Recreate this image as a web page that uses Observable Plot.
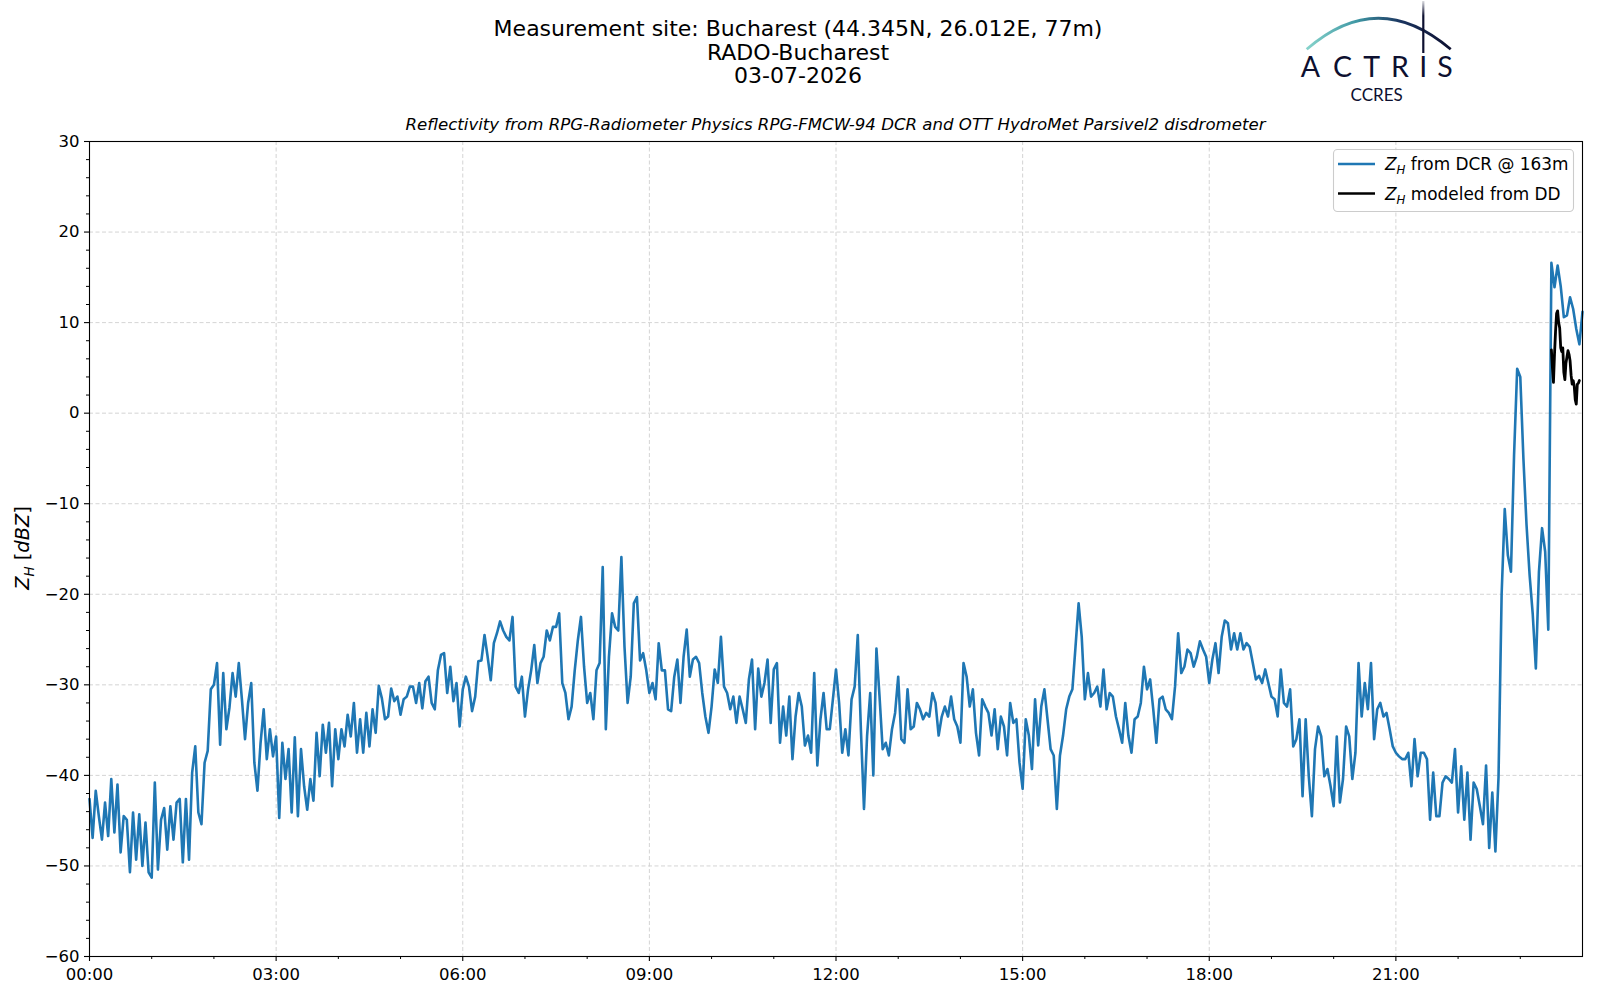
<!DOCTYPE html>
<html>
<head>
<meta charset="utf-8">
<script src="https://cdn.jsdelivr.net/npm/d3@7"></script>
<script src="https://cdn.jsdelivr.net/npm/@observablehq/plot@0.6"></script>
<style>
  body { margin: 0; background: #fff; font-family: "DejaVu Sans", sans-serif; }
  #fig { position: relative; width: 1600px; height: 1000px; overflow: hidden; }
  .title { position: absolute; left: 0; top: 17px; width: 1596px; text-align: center;
           font-size: 22px; line-height: 23.5px; color: #000; }
  .subtitle { position: absolute; left: 89px; top: 115px; width: 1493px; text-align: center;
              font-size: 16.6px; line-height: 20px; font-style: italic; color: #000; }
  #chart { position: absolute; left: 0; top: 100px; }
  .overlay { position: absolute; overflow: visible; }
</style>
</head>
<body>
<div id="fig">
  <div class="title">Measurement site: Bucharest (44.345N, 26.012E, 77m)<br>RADO-Bucharest<br>03-07-2026</div>

  <svg class="overlay" style="left:1285px;top:0" width="190" height="105">
    <defs>
      <linearGradient id="arcGrad" x1="0" x2="1" y1="0" y2="0">
        <stop offset="0" stop-color="#86d3cb"/>
        <stop offset="0.35" stop-color="#3f97a4"/>
        <stop offset="0.65" stop-color="#1b3560"/>
        <stop offset="1" stop-color="#0d1030"/>
      </linearGradient>
      <linearGradient id="barGrad" gradientUnits="userSpaceOnUse" x1="0" x2="0" y1="0" y2="53">
        <stop offset="0" stop-color="#0d1030" stop-opacity="0.1"/>
        <stop offset="0.3" stop-color="#0d1030" stop-opacity="1"/>
        <stop offset="1" stop-color="#0d1030"/>
      </linearGradient>
    </defs>
    <path d="M21.7,49.3 Q93,-12.9 165.7,49.3" fill="none" stroke="url(#arcGrad)" stroke-width="2.8"/>
    <line x1="138.3" x2="138.3" y1="1" y2="53" stroke="url(#barGrad)" stroke-width="2.2"/>
    <text y="76.5" font-family="Lato" font-size="28.5px" fill="#0d1030" text-anchor="middle"><tspan x="25.5">A</tspan><tspan x="57.5">C</tspan><tspan x="86.7">T</tspan><tspan x="115">R</tspan><tspan x="138.3">I</tspan><tspan x="160">S</tspan></text>
    <text x="91.7" y="100.5" font-family="Lato" font-size="17px" fill="#0d1030" text-anchor="middle">CCRES</text>
  </svg>

  <div class="subtitle">Reflectivity from RPG-Radiometer Physics RPG-FMCW-94 DCR and OTT HydroMet Parsivel2 disdrometer</div>

  <div id="chart"></div>

  <svg class="overlay" style="left:0;top:400px" width="46" height="300">
    <text transform="translate(29,148) rotate(-90)" text-anchor="middle" font-family="DejaVu Sans" font-size="19.4px" fill="#000"><tspan font-style="italic">Z</tspan><tspan font-style="italic" font-size="13.5px" dy="4.5">H</tspan><tspan dy="-4.5"> [</tspan><tspan font-style="italic">dBZ</tspan><tspan>]</tspan></text>
  </svg>

  <svg class="overlay" style="left:1333px;top:149px" width="244" height="66">
    <rect x="0.5" y="0.5" width="240" height="62" rx="4" fill="#fff" fill-opacity="0.8" stroke="#cccccc" stroke-width="1.1"/>
    <line x1="5" x2="42" y1="15" y2="15" stroke="#1f77b4" stroke-width="2.6"/>
    <line x1="5" x2="42" y1="44.5" y2="44.5" stroke="#000" stroke-width="2.6"/>
    <text x="52" y="21" font-family="DejaVu Sans" font-size="16.9px" fill="#000"><tspan font-style="italic">Z</tspan><tspan font-style="italic" font-size="11.8px" dy="4">H</tspan><tspan dy="-4"> from DCR @ 163m</tspan></text>
    <text x="52" y="50.5" font-family="DejaVu Sans" font-size="16.9px" fill="#000"><tspan font-style="italic">Z</tspan><tspan font-style="italic" font-size="11.8px" dy="4">H</tspan><tspan dy="-4"> modeled from DD</tspan></text>
  </svg>
</div>

<script>
// day of the measurement (03-07-2026), values every 3 minutes from 00:00 to 24:00
const dayStart = Date.UTC(2026, 6, 3);
const dcrStepMin = 3;
const zhDcr = [
  -42.6, -46.9, -41.7, -44.5, -47.1, -43.0, -46.7, -40.4, -46.3, -41.0,
  -48.5, -44.5, -44.9, -50.7, -44.1, -49.3, -44.3, -50.0, -45.2, -50.7,
  -51.3, -40.8, -50.4, -44.9, -43.6, -48.2, -43.4, -47.1, -43.0, -42.6,
  -49.6, -42.6, -49.3, -39.7, -36.8, -44.1, -45.4, -38.6, -37.3, -30.5,
  -30.0, -27.6, -36.6, -28.7, -34.9, -32.5, -28.7, -31.3, -27.6, -31.6,
  -36.0, -32.0, -29.8, -38.6, -41.7, -36.4, -32.7, -38.2, -34.9, -37.9,
  -35.7, -44.7, -36.4, -40.4, -37.1, -44.1, -35.8, -44.5, -37.1, -41.2,
  -43.8, -40.4, -42.8, -35.3, -40.1, -34.4, -37.5, -34.2, -41.2, -34.9,
  -38.2, -34.9, -36.8, -33.3, -35.7, -32.0, -37.5, -33.8, -37.5, -33.1,
  -36.8, -32.7, -35.3, -30.1, -31.5, -33.8, -33.5, -30.4, -31.8, -31.3,
  -33.3, -31.6, -31.3, -30.2, -30.2, -32.0, -29.8, -32.6, -29.6, -29.1,
  -32.0, -32.7, -28.4, -26.7, -26.5, -30.9, -28.0, -31.8, -29.8, -34.6,
  -30.5, -29.1, -30.2, -32.9, -31.3, -27.4, -27.3, -24.5, -26.9, -29.5,
  -25.4, -24.3, -23.0, -24.0, -24.7, -25.1, -22.5, -30.2, -30.9, -29.1,
  -33.5, -30.5, -28.4, -25.6, -29.8, -27.6, -26.9, -24.0, -25.1, -23.6,
  -23.6, -22.1, -29.8, -30.9, -33.8, -32.4, -28.4, -25.1, -22.5, -28.0,
  -32.0, -30.9, -33.8, -28.4, -27.6, -17.0, -34.9, -26.9, -22.1, -23.6,
  -24.0, -15.9, -25.8, -32.0, -29.1, -21.0, -20.3, -27.3, -26.5, -28.4,
  -30.9, -29.8, -31.6, -25.4, -28.4, -28.4, -32.7, -32.9, -29.1, -27.2,
  -32.0, -26.9, -23.9, -29.1, -27.2, -26.9, -27.6, -30.9, -33.5, -35.3,
  -32.4, -28.3, -29.8, -24.7, -30.2, -30.9, -32.7, -31.3, -34.2, -31.3,
  -32.7, -34.2, -29.4, -27.2, -34.9, -28.2, -31.3, -29.8, -27.2, -34.2,
  -28.3, -27.6, -36.4, -32.4, -35.6, -31.3, -38.2, -33.5, -30.9, -32.4,
  -36.7, -35.6, -37.5, -28.7, -38.9, -33.8, -30.9, -34.9, -34.9, -31.6,
  -28.3, -32.0, -37.5, -34.9, -37.8, -31.6, -30.2, -24.5, -34.9, -43.7,
  -35.6, -30.9, -40.0, -26.0, -31.3, -37.1, -36.4, -37.8, -34.9, -33.1,
  -29.1, -36.0, -36.4, -30.5, -34.9, -34.6, -32.0, -32.7, -33.8, -33.1,
  -33.5, -30.9, -32.0, -35.6, -33.5, -32.4, -33.5, -31.3, -33.8, -34.6,
  -36.4, -27.6, -29.1, -32.4, -30.5, -35.3, -37.8, -31.6, -32.4, -33.1,
  -35.6, -32.7, -37.1, -33.5, -34.6, -37.8, -32.0, -34.2, -33.8, -38.6,
  -41.5, -33.8, -35.6, -39.3, -31.6, -36.7, -32.4, -30.5, -33.8, -37.1,
  -37.8, -43.7, -37.8, -35.6, -32.7, -31.3, -30.5, -25.8, -21.0, -24.7,
  -31.6, -28.7, -31.3, -30.9, -30.2, -32.4, -28.3, -32.7, -30.9, -31.3,
  -33.5, -34.9, -36.4, -32.0, -35.6, -37.5, -33.8, -33.5, -32.0, -28.0,
  -30.5, -29.4, -32.7, -36.4, -31.6, -31.3, -32.7, -33.1, -33.8, -30.2,
  -24.3, -28.7, -28.0, -26.1, -26.5, -28.0, -26.9, -25.2, -26.1, -26.9,
  -29.8, -27.2, -25.4, -28.7, -24.7, -22.9, -23.2, -26.1, -24.3, -26.1,
  -24.3, -26.1, -25.4, -25.8, -27.6, -29.4, -29.0, -29.8, -28.3, -29.8,
  -31.3, -31.6, -33.5, -28.3, -32.0, -32.4, -30.5, -36.8, -36.0, -33.8,
  -42.3, -33.8, -40.1, -44.5, -37.1, -34.6, -35.7, -40.1, -39.3, -41.2,
  -43.4, -35.7, -43.0, -40.4, -34.6, -35.7, -40.4, -37.5, -27.6, -33.5,
  -29.8, -32.7, -27.6, -36.0, -32.7, -32.0, -33.5, -33.1, -34.9, -36.8,
  -37.5, -37.9, -38.2, -38.2, -37.5, -41.2, -36.0, -40.1, -37.5, -37.5,
  -38.2, -44.9, -39.7, -44.5, -44.5, -40.8, -40.1, -40.4, -40.8, -37.1,
  -44.1, -39.0, -44.9, -39.7, -47.1, -40.8, -41.5, -43.4, -45.4, -38.9,
  -48.0, -41.9, -48.4, -40.2, -20.0, -10.6, -15.7, -17.5, -4.6, 4.9,
  4.0, -5.0, -12.3, -17.9, -22.2, -28.2, -17.5, -12.7, -15.3, -23.9,
  16.6, 13.9, 16.3, 14.0, 10.6, 10.8, 12.8, 11.5, 9.3, 7.6, 11.2
];

// disdrometer-modeled reflectivity, one value per minute from 23:30
const ddStartMin = 1410;
const zhDd = [
  7.0, 5.0, 3.4, 6.5, 9.0, 11.0, 11.3, 10.0, 9.4, 7.2,
  6.8, 7.2, 4.5, 3.7, 5.5, 6.2, 6.9, 6.5, 5.8, 4.2,
  3.2, 3.6, 3.0, 1.5, 1.0, 3.2, 3.3, 3.6
];

const majorHours = [0, 3, 6, 9, 12, 15, 18, 21];
const yMajor = [-60, -50, -40, -30, -20, -10, 0, 10, 20, 30];

const at = min => new Date(dayStart + min * 60000);
const dcrRows = zhDcr.map((v, i) => ({t: at(i * dcrStepMin), v}));
const ddRows = zhDd.map((v, i) => ({t: at(ddStartMin + i), v}));

const xMajor = majorHours.map(h => at(h * 60));
const xMinor = d3.range(0, 25).filter(h => h % 3).map(h => at(h * 60));
const yMinor = d3.range(-60, 31, 2).filter(v => v % 10);

const gridStyle = {stroke: "#cfcfcf", strokeOpacity: 1, strokeWidth: 0.9, strokeDasharray: "4,2.5"};

document.querySelector("#chart").append(
  Plot.plot({
    width: 1600,
    height: 900,
    marginTop: 41,
    marginBottom: 44,
    marginLeft: 89,
    marginRight: 18,
    style: {fontFamily: "DejaVu Sans", fontSize: "16.5px", color: "#000", background: "transparent"},
    x: {type: "utc", domain: [at(0), at(1440)]},
    y: {domain: [-60, 30]},
    marks: [
      Plot.gridX({ticks: xMajor.slice(1), ...gridStyle}),
      Plot.gridY({ticks: yMajor.slice(1, -1), ...gridStyle}),
      Plot.line(dcrRows, {x: "t", y: "v", stroke: "#1f77b4", strokeWidth: 2.6}),
      Plot.line(ddRows, {x: "t", y: "v", stroke: "#000", strokeWidth: 2.8}),
      Plot.frame({stroke: "#000", strokeWidth: 1.1}),
      Plot.axisX({ticks: xMajor, tickSize: 5, tickPadding: 7, strokeWidth: 1.1, tickFormat: d3.utcFormat("%H:%M"), label: null}),
      Plot.axisX({ticks: xMinor, tickSize: 3, strokeWidth: 1, tickFormat: () => "", label: null}),
      Plot.axisY({ticks: yMajor, tickSize: 5, tickPadding: 5, strokeWidth: 1.1, tickFormat: d3.format("d"), label: null}),
      Plot.axisY({ticks: yMinor, tickSize: 3, strokeWidth: 1, tickFormat: () => "", label: null})
    ]
  })
);
</script>
</body>
</html>
